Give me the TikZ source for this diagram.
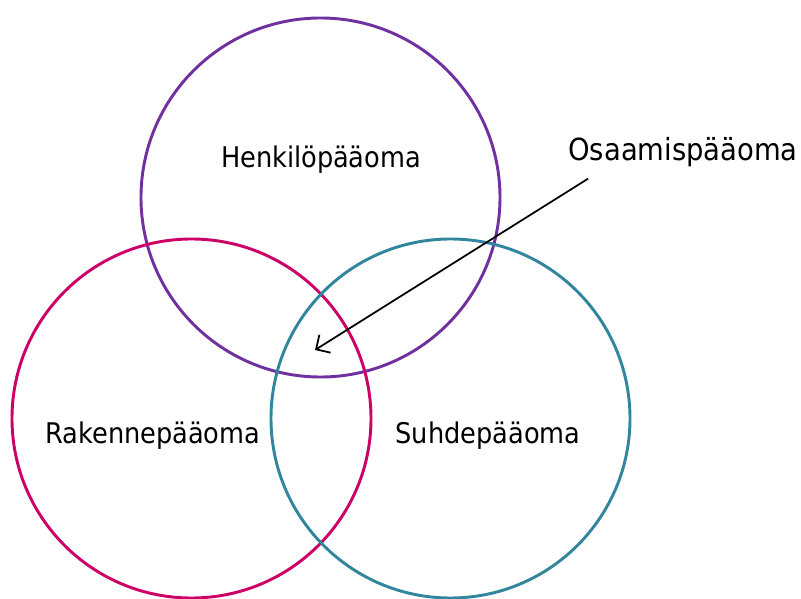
\documentclass[tikz,border=0pt]{standalone}
\usepackage{fontspec}
\setmainfont{DejaVu Sans Condensed}
\usepackage{xcolor}
\usetikzlibrary{arrows.meta,positioning}

\definecolor{henkilo}{HTML}{7030A0}
\definecolor{rakenne}{HTML}{CC0066}
\definecolor{suhde}{HTML}{31859C}

\tikzset{
	ympyra/.style={line width=2.5pt},
	nimi/.style={font=\fontsize{24.3}{29}\selectfont, inner sep=0pt},
	nuoli/.style={line width=1.5pt, -{Straight Barb[length=9pt, width=18pt]}}
}

\begin{document}
\begin{tikzpicture}[x=0.03cm, y=-0.03cm]
		\useasboundingbox (0,0) rectangle (801,599);
		% kolme pääomaa
		\draw[ympyra, henkilo] (320.5,197.5) circle[radius=5.385cm];
		\draw[ympyra, rakenne] (191.5,418.5) circle[radius=5.385cm];
		\draw[ympyra, suhde] (450.5,418.5) circle[radius=5.385cm];
		
		\node[nimi] (henk) at (321,160) {Henkilöpääoma};
		\node[nimi] (rak) at (153,436) {Rakennepääoma};
		\node[nimi] (suhd) at (488,436) {Suhdepääoma};
		
		% osaaminen keskellä
		\node[nimi, font=\fontsize{26}{31}\selectfont] (osaa) at (683,152) {Osaamispääoma};
		\coordinate (ydin) at (315,350);
		\draw[nuoli] ([xshift=0.6cm, yshift=-0.35cm]osaa.south west) -- (ydin);
	\end{tikzpicture}
\end{document}
